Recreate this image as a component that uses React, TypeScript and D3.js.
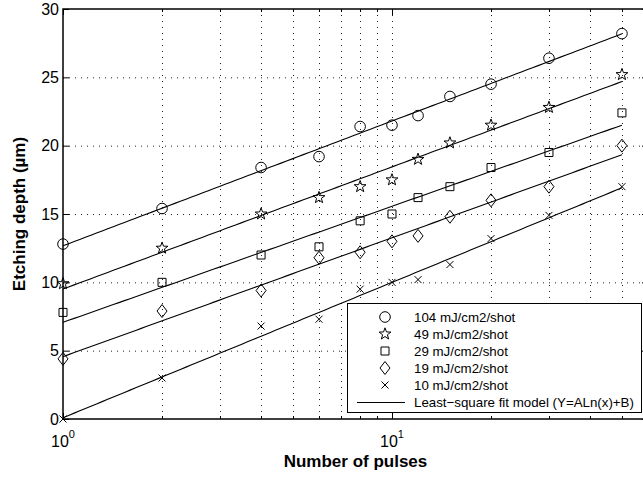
import React from 'react';
import * as d3 from 'd3';

// Number of laser pulses (x) and measured etching depth in µm for each fluence
const pulses = [1, 2, 4, 6, 8, 10, 12, 15, 20, 30, 50];
const depth104 = [12.8, 15.4, 18.4, 19.2, 21.4, 21.5, 22.2, 23.6, 24.5, 26.4, 28.2];
const depth49 = [9.9, 12.5, 15.0, 16.2, 17.0, 17.5, 19.0, 20.2, 21.5, 22.8, 25.2];
const depth29 = [7.8, 10.0, 12.0, 12.6, 14.5, 15.0, 16.2, 17.0, 18.4, 19.5, 22.4];
const depth19 = [4.4, 7.9, 9.4, 11.8, 12.2, 13.0, 13.4, 14.8, 16.0, 17.0, 20.0];
const depth10 = [0.0, 3.0, 6.8, 7.3, 9.5, 10.0, 10.2, 11.3, 13.2, 14.9, 17.0];

const seriesLabels = [
  '104 mJ/cm2/shot',
  '49 mJ/cm2/shot',
  '29 mJ/cm2/shot',
  '19 mJ/cm2/shot',
  '10 mJ/cm2/shot',
];
const markerKinds = ['circle', 'star', 'square', 'diamond', 'cross'];
const fitLabel = 'Least\u2212square fit model (Y=ALn(x)+B)';

const yTicks = [0, 5, 10, 15, 20, 25, 30];
const xDecades = [1, 10];
const xMinor = [2, 3, 4, 5, 6, 7, 8, 9, 20, 30, 40, 50];
const xDomain = [1, 60];
const yDomain = [0, 30];

const W = 643;
const H = 480;
const left = 63;
const top = 9;
const bottom = 419;
const right = 648;

const FONT = 'Liberation Sans, Arial, Helvetica, sans-serif';

// least-squares fit of y = A ln(x) + B
function lnFit(xs: number[], ys: number[]) {
  const lx = xs.map((v) => Math.log(v));
  const mx = d3.mean(lx) as number;
  const my = d3.mean(ys) as number;
  let sxx = 0;
  let sxy = 0;
  lx.forEach((v, i) => {
    sxx += (v - mx) * (v - mx);
    sxy += (v - mx) * (ys[i] - my);
  });
  const A = sxy / sxx;
  const B = my - A * mx;
  return { A, B };
}

function markerPath(kind: string): string {
  switch (kind) {
    case 'circle': {
      const p = d3.path();
      p.arc(0, 0, 5.3, 0, Math.PI * 2);
      p.closePath();
      return p.toString();
    }
    case 'square':
      return 'M-4,-4H4V4H-4Z';
    case 'diamond':
      return 'M0,-6.5L5,0L0,6.5L-5,0Z';
    case 'cross':
      return 'M-3.5,-3.5L3.5,3.5M-3.5,3.5L3.5,-3.5';
    case 'star': {
      const ro = 6.2;
      const ri = 2.5;
      const pts: [number, number][] = [];
      for (let i = 0; i < 10; i++) {
        const r = i % 2 === 0 ? ro : ri;
        const a = -Math.PI / 2 + (i * Math.PI) / 5;
        pts.push([r * Math.cos(a), r * Math.sin(a)]);
      }
      return 'M' + pts.map((q) => q[0].toFixed(2) + ',' + q[1].toFixed(2)).join('L') + 'Z';
    }
    default:
      return '';
  }
}

export default function App() {
  const x = d3.scaleLog().domain(xDomain).range([left, right]);
  const y = d3.scaleLinear().domain(yDomain).range([bottom, top]);

  const series = [depth104, depth49, depth29, depth19, depth10];
  const fits = series.map((s) => lnFit(pulses, s));
  const fitX = d3.range(0, 101).map((i) => Math.exp((Math.log(50) * i) / 100));
  const line = d3
    .line<number>()
    .x((v) => x(v))
    .y((v, i) => v);

  const lg = { x0: 347, y0: 303, x1: 641, y1: 412 };
  const rowY = (i: number) => 317 + i * 17;

  return (
    <div style={{ position: 'absolute', left: 0, top: 0 }}>
      <svg width={W} height={H} style={{ display: 'block', background: '#fff' }}>
        <rect x={0} y={0} width={W} height={H} fill="#fff" />
        {/* grid */}
        <g stroke="#222" strokeWidth={1} strokeDasharray="1,5" fill="none">
          {yTicks
            .filter((t) => t > yDomain[0] && t < yDomain[1])
            .map((t) => (
              <line key={'gy' + t} x1={left} x2={right} y1={y(t) + 0.5} y2={y(t) + 0.5} />
            ))}
          {[...xDecades.filter((d) => d > 1), ...xMinor].map((t) => (
            <line key={'gx' + t} x1={Math.round(x(t)) + 0.5} x2={Math.round(x(t)) + 0.5} y1={top} y2={bottom} />
          ))}
        </g>

        {/* ticks */}
        <g stroke="#000" strokeWidth={1}>
          {yTicks.map((t) => (
            <g key={'ty' + t}>
              <line x1={left} x2={left + 6} y1={y(t) + 0.5} y2={y(t) + 0.5} />
              <line x1={right} x2={right - 6} y1={y(t) + 0.5} y2={y(t) + 0.5} />
            </g>
          ))}
          {xDecades.map((t) => (
            <g key={'tx' + t}>
              <line x1={Math.round(x(t)) + 0.5} x2={Math.round(x(t)) + 0.5} y1={bottom} y2={bottom - 6} />
              <line x1={Math.round(x(t)) + 0.5} x2={Math.round(x(t)) + 0.5} y1={top} y2={top + 6} />
            </g>
          ))}
          {xMinor.map((t) => (
            <g key={'tm' + t}>
              <line x1={Math.round(x(t)) + 0.5} x2={Math.round(x(t)) + 0.5} y1={bottom} y2={bottom - 3} />
              <line x1={Math.round(x(t)) + 0.5} x2={Math.round(x(t)) + 0.5} y1={top} y2={top + 3} />
            </g>
          ))}
        </g>

        {/* fitted curves */}
        <g fill="none" stroke="#000" strokeWidth={1.1}>
          {fits.map((f, k) => (
            <path
              key={'fit' + k}
              d={
                d3
                  .line<number>()
                  .x((v) => x(v))
                  .y((v) => y(f.A * Math.log(v) + f.B))(fitX) as string
              }
            />
          ))}
        </g>

        {/* measured points */}
        <g fill="none" stroke="#000" strokeWidth={1}>
          {series.map((s, k) =>
            s.map((v, i) => (
              <path
                key={'m' + k + '-' + i}
                transform={`translate(${x(pulses[i])},${y(v)})`}
                d={markerPath(markerKinds[k])}
              />
            ))
          )}
        </g>

        {/* axes box */}
        <rect
          x={left}
          y={top}
          width={right - left}
          height={bottom - top}
          fill="none"
          stroke="#000"
          strokeWidth={1.5}
        />

        {/* y tick labels */}
        <g fontFamily={FONT} fontSize={16} fill="#000" textAnchor="end">
          {yTicks.map((t) => (
            <text key={'ly' + t} x={left - 4} y={y(t)} dy="0.36em">
              {t}
            </text>
          ))}
        </g>

        {/* x tick labels, powers of ten */}
        <g fontFamily={FONT} fill="#000">
          {xDecades.map((t) => (
            <text key={'lx' + t} x={x(t) - 12} y={447} fontSize={16}>
              10
              <tspan fontSize={11} dy={-9}>
                {Math.round(Math.log10(t))}
              </tspan>
            </text>
          ))}
        </g>

        {/* axis titles */}
        <text
          x={(left + right) / 2}
          y={467}
          textAnchor="middle"
          fontFamily={FONT}
          fontWeight="bold"
          fontSize={17}
        >
          Number of pulses
        </text>
        <text
          transform={`translate(25,${(top + bottom) / 2}) rotate(-90)`}
          textAnchor="middle"
          fontFamily={FONT}
          fontWeight="bold"
          fontSize={17}
        >
          Etching depth (µm)
        </text>

        {/* legend */}
        <g>
          <rect
            x={lg.x0 + 0.5}
            y={lg.y0 + 0.5}
            width={lg.x1 - lg.x0}
            height={lg.y1 - lg.y0}
            fill="#fff"
            stroke="#000"
            strokeWidth={1}
          />
          {seriesLabels.map((lab, i) => (
            <g key={'lg' + i}>
              <path
                transform={`translate(385,${rowY(i)})`}
                d={markerPath(markerKinds[i])}
                fill="none"
                stroke="#000"
                strokeWidth={1}
              />
              <text x={414} y={rowY(i)} dy="0.36em" fontFamily={FONT} fontSize={13.3}>
                {lab}
              </text>
            </g>
          ))}
          <line x1={357} x2={405} y1={rowY(5) + 0.5} y2={rowY(5) + 0.5} stroke="#000" strokeWidth={1} />
          <text x={414} y={rowY(5)} dy="0.36em" fontFamily={FONT} fontSize={13.3}>
            {fitLabel}
          </text>
        </g>
      </svg>
    </div>
  );
}
